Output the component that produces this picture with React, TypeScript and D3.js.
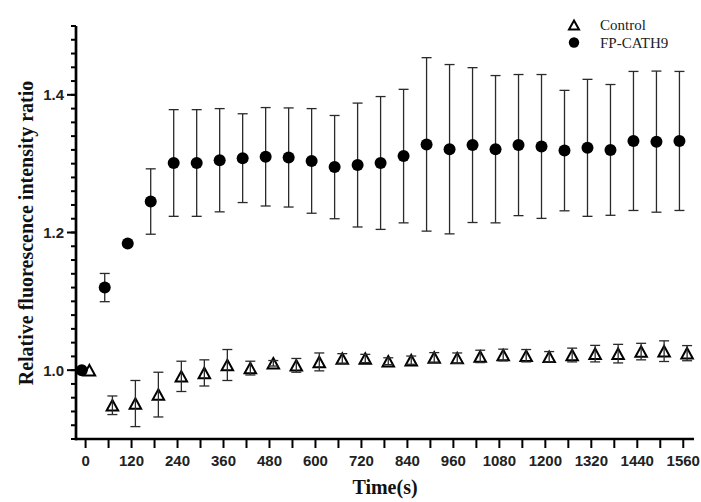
import React from 'react';
import * as d3 from 'd3';

// sampling times (s)
const times = [0, 60, 120, 180, 240, 300, 360, 420, 480, 540, 600, 660, 720, 780, 840, 900, 960, 1020, 1080, 1140, 1200, 1260, 1320, 1380, 1440, 1500, 1560];

const controlMean = [1.0, 0.949, 0.9515, 0.9645, 0.991, 0.996, 1.0075, 1.003, 1.01, 1.007, 1.012, 1.017, 1.017, 1.013, 1.0145, 1.0185, 1.0175, 1.02, 1.022, 1.021, 1.0195, 1.022, 1.024, 1.024, 1.027, 1.0276, 1.0247];
const controlSd = [0, 0.0135, 0.0335, 0.0325, 0.022, 0.019, 0.0225, 0.01, 0.004, 0.01, 0.013, 0.007, 0.006, 0.005, 0.006, 0.007, 0.0075, 0.009, 0.0085, 0.009, 0.0075, 0.01, 0.012, 0.0135, 0.012, 0.015, 0.011];

const fpMean = [1.0, 1.12, 1.184, 1.245, 1.301, 1.301, 1.305, 1.308, 1.31, 1.309, 1.304, 1.295, 1.298, 1.301, 1.311, 1.328, 1.321, 1.327, 1.321, 1.327, 1.325, 1.319, 1.323, 1.32, 1.333, 1.332, 1.333];
const fpSd = [0, 0.0205, 0, 0.0475, 0.0775, 0.0775, 0.075, 0.0645, 0.0715, 0.072, 0.076, 0.075, 0.09, 0.0965, 0.097, 0.126, 0.123, 0.1125, 0.107, 0.1025, 0.1045, 0.0875, 0.0995, 0.095, 0.101, 0.1025, 0.101];

const xTickValues = d3.range(0, 1561, 60);
const xLabelValues = d3.range(0, 1561, 120);
const yMajorTicks = [1.0, 1.2, 1.4];
const yMinorTicks = d3.range(0, 31).map(i => 0.9 + i * 0.02);

const seriesNames = ['Control', 'FP-CATH9'];

const width = 701;
const height = 502;
const plot = { left: 76, right: 694, top: 26, bottom: 439 };

const x = d3.scaleLinear().domain([-25, 1588]).range([plot.left, plot.right]);
const y = d3.scaleLinear().domain([0.9, 1.5]).range([plot.bottom, plot.top]);

// horizontal nudge so the two series don't sit on top of each other
const dodge = 10;

const tickFont = '"Liberation Sans", Arial, sans-serif';
const titleFont = '"Liberation Serif", "Times New Roman", serif';

const trianglePath = (w: number, h: number) =>
  d3.line()([[0, -h / 2], [w / 2, h / 2], [-w / 2, h / 2], [0, -h / 2]]) + 'Z';

const ErrorBar = ({ cx, mean, sd }: { cx: number; mean: number; sd: number }) => {
  if (!sd) return null;
  const y1 = y(mean + sd);
  const y2 = y(mean - sd);
  const cap = 5;
  return (
    <g stroke="#2a2a2a" strokeWidth={1.3}>
      <line x1={cx} x2={cx} y1={y1} y2={y2} />
      <line x1={cx - cap} x2={cx + cap} y1={y1} y2={y1} />
      <line x1={cx - cap} x2={cx + cap} y1={y2} y2={y2} />
    </g>
  );
};

export default function App() {
  const tri = trianglePath(11.5, 10.5);
  return (
    <svg width={width} height={height} style={{ position: 'absolute', left: 0, top: 0, background: '#fff' }}>
      {/* FP-CATH9 */}
      {times.map((t, i) => (
        <g key={`fp-${t}`}>
          <ErrorBar cx={x(t - dodge)} mean={fpMean[i]} sd={fpSd[i]} />
          <circle cx={x(t - dodge)} cy={y(fpMean[i])} r={6} fill="#000" />
        </g>
      ))}

      {/* Control */}
      {times.map((t, i) => (
        <g key={`ctl-${t}`}>
          <path d={tri} transform={`translate(${x(t + dodge)},${y(controlMean[i])})`} fill="none" stroke="#000" strokeWidth={2} />
          <ErrorBar cx={x(t + dodge)} mean={controlMean[i]} sd={controlSd[i]} />
        </g>
      ))}

      {/* Y axis */}
      <line x1={plot.left} x2={plot.left} y1={plot.top} y2={plot.bottom + 1.3} stroke="#000" strokeWidth={2.7} />
      {yMinorTicks.map(v => (
        <line key={`ym-${v}`} x1={plot.left - 5} x2={plot.left} y1={y(v)} y2={y(v)} stroke="#000" strokeWidth={2} />
      ))}
      {yMajorTicks.map(v => (
        <g key={`yM-${v}`}>
          <line x1={plot.left - 9} x2={plot.left} y1={y(v)} y2={y(v)} stroke="#000" strokeWidth={2} />
          <text x={plot.left - 12} y={y(v)} textAnchor="end" dominantBaseline="central" fontFamily={tickFont} fontWeight="bold" fontSize={15} fill="#222">
            {d3.format('.1f')(v)}
          </text>
        </g>
      ))}

      {/* X axis */}
      <line x1={plot.left - 1.3} x2={plot.right} y1={plot.bottom} y2={plot.bottom} stroke="#000" strokeWidth={2.7} />
      {xTickValues.map(v => (
        <line key={`xt-${v}`} x1={x(v)} x2={x(v)} y1={plot.bottom} y2={plot.bottom + 9} stroke="#000" strokeWidth={2} />
      ))}
      {xLabelValues.map(v => (
        <text key={`xl-${v}`} x={x(v)} y={466} textAnchor="middle" fontFamily={tickFont} fontWeight="bold" fontSize={15} fill="#222">
          {v}
        </text>
      ))}

      {/* axis titles */}
      <text x={385} y={494} textAnchor="middle" fontFamily={titleFont} fontWeight="bold" fontSize={20} fill="#111">
        Time(s)
      </text>
      <text transform="translate(33,233) rotate(-90)" textAnchor="middle" fontFamily={titleFont} fontWeight="bold" fontSize={20} fill="#111">
        Relative fluorescence intensity ratio
      </text>

      {/* legend */}
      <g>
        <path d={trianglePath(10, 9)} transform="translate(574,25)" fill="none" stroke="#000" strokeWidth={2} />
        <text x={600} y={30} fontFamily={titleFont} fontSize={15} fill="#222">{seriesNames[0]}</text>
        <circle cx={574} cy={42.5} r={5.2} fill="#000" />
        <text x={600} y={47.5} fontFamily={titleFont} fontSize={15} fill="#222">{seriesNames[1]}</text>
      </g>
    </svg>
  );
}
